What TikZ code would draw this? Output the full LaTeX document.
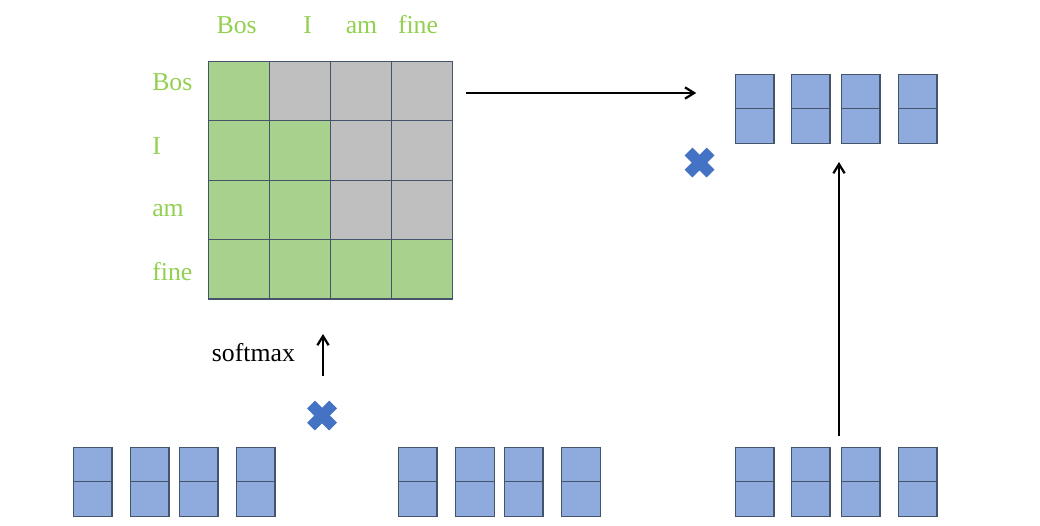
\documentclass[tikz,border=0pt]{standalone}
\usepackage{fontspec}
\setmainfont{Liberation Serif}
\usetikzlibrary{arrows.meta,positioning,shapes.misc}
\definecolor{wordgreen}{HTML}{92D050}
\definecolor{cellgreen}{HTML}{A9D18E}
\definecolor{cellgray}{HTML}{BFBFBF}
\definecolor{vecblue}{HTML}{8FAADC}
\definecolor{edgeblue}{HTML}{44546A}
\definecolor{crossblue}{HTML}{4472C4}

\begin{document}
\begin{tikzpicture}[
    x=0.025cm, y=-0.025cm,
    >={Straight Barb[length=6.5pt,width=8pt,line width=1.6pt]},
    cell/.style={draw=edgeblue, line width=0.8pt, inner sep=0pt, outer sep=0pt,
                 minimum width=1.525cm, minimum height=1.485cm},
    vec/.style={draw=edgeblue, fill=vecblue, line width=0.9pt, inner sep=0pt,
                outer sep=0pt, minimum width=0.9675cm, minimum height=0.8625cm},
    word/.style={text=wordgreen, font=\fontsize{18.3}{20}\selectfont},
    arrow/.style={->, line width=1.3pt},
    times/.style={cross out, draw=crossblue, line width=7.8pt, inner sep=0pt,
                  outer sep=0pt, minimum size=0.55cm},
  ]
  \useasboundingbox (0,0) rectangle (1040,526);

  % mask matrix
  \node[cell, fill=cellgreen, anchor=north west] (m11) at (208.3,61.3) {};
  \node[cell, fill=cellgray, right=0pt of m11] (m12) {};
  \node[cell, fill=cellgray, right=0pt of m12] (m13) {};
  \node[cell, fill=cellgray, right=0pt of m13] (m14) {};
  \node[cell, fill=cellgreen, below=0pt of m11] (m21) {};
  \node[cell, fill=cellgreen, right=0pt of m21] (m22) {};
  \node[cell, fill=cellgray, right=0pt of m22] (m23) {};
  \node[cell, fill=cellgray, right=0pt of m23] (m24) {};
  \node[cell, fill=cellgreen, below=0pt of m21] (m31) {};
  \node[cell, fill=cellgreen, right=0pt of m31] (m32) {};
  \node[cell, fill=cellgray, right=0pt of m32] (m33) {};
  \node[cell, fill=cellgray, right=0pt of m33] (m34) {};
  \node[cell, fill=cellgreen, below=0pt of m31] (m41) {};
  \node[cell, fill=cellgreen, right=0pt of m41] (m42) {};
  \node[cell, fill=cellgreen, right=0pt of m42] (m43) {};
  \node[cell, fill=cellgreen, right=0pt of m43] (m44) {};

  % words
  \node[word, anchor=base] (c1) at (236.7,33.3) {Bos};
  \node[word, anchor=base] (c2) at (307.7,33.3) {I};
  \node[word, anchor=base] (c3) at (361.5,33.3) {am};
  \node[word, anchor=base] (c4) at (418,33.3) {fine};
  \node[word, anchor=base west, inner sep=0pt] (r1) at (152,90.7) {Bos};
  \node[word, anchor=base west, inner sep=0pt] (r2) at (152,154.3) {I};
  \node[word, anchor=base west, inner sep=0pt] (r3) at (152,216.7) {am};
  \node[word, anchor=base west, inner sep=0pt] (r4) at (152,280) {fine};
  \node[font=\fontsize{18.3}{20}\selectfont, anchor=base west, inner sep=0pt]
    (soft) at (211.7,361.7) {softmax};

  % vectors
  \foreach \vx [count=\i] in {73.3,130.3,179.3,236.3} {
    \node[vec, anchor=north west] (q\i a) at (\vx,447.3) {};
    \node[vec, below=0pt of q\i a] (q\i b) {};
  }
  \foreach \vx [count=\i] in {398.3,455.7,504.3,561.7} {
    \node[vec, anchor=north west] (k\i a) at (\vx,447.3) {};
    \node[vec, below=0pt of k\i a] (k\i b) {};
  }
  \foreach \vx [count=\i] in {735.3,791.3,841.3,898.3} {
    \node[vec, anchor=north west] (v\i a) at (\vx,447.3) {};
    \node[vec, below=0pt of v\i a] (v\i b) {};
  }
  \foreach \vx [count=\i] in {735.3,791.3,841.3,898.3} {
    \node[vec, anchor=north west] (o\i a) at (\vx,74.3) {};
    \node[vec, below=0pt of o\i a] (o\i b) {};
  }

  % products
  \node[times] (x1) at (322,415.5) {};
  \node[times] (x2) at (699.5,162.5) {};

  \coordinate (up0) at (839,436);
  \coordinate (up1) at (839,162);

  \draw[arrow, shorten <=0.35cm, shorten >=0.975cm]
    (m14.east |- 0,93) -- (o1a.west |- 0,93);
  \draw[arrow, shorten <=0.72cm, shorten >=0.875cm]
    (x1.north -| 323,0) -- (m42.south -| 323,0);
  \draw[arrow] (up0) -- (up1);

\end{tikzpicture}
\end{document}
